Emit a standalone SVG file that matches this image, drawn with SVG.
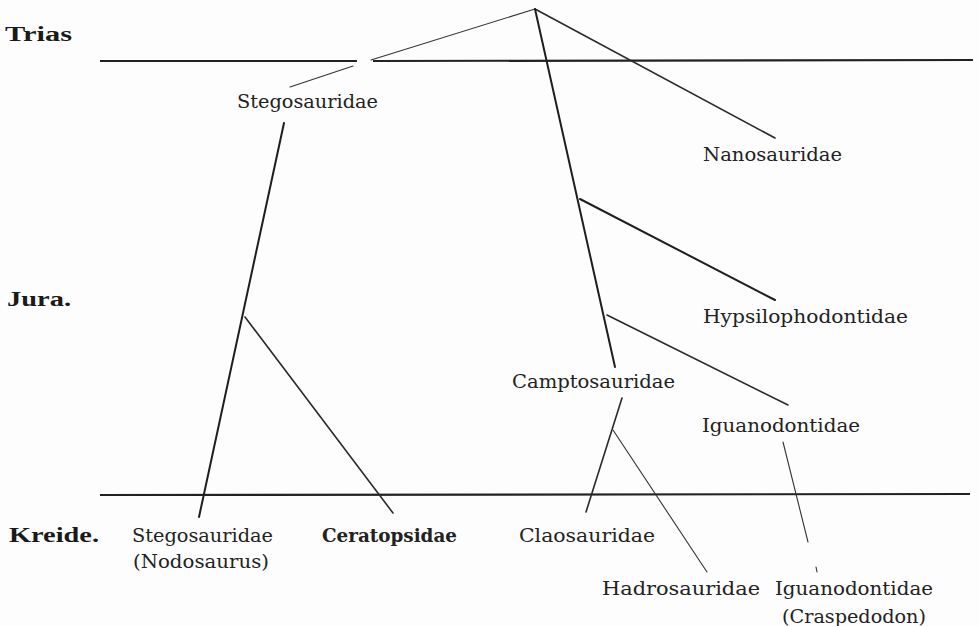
<svg xmlns="http://www.w3.org/2000/svg" width="979" height="626" viewBox="0 0 979 626">
<style>
.bg{fill:#fdfdfd}
.era{font-family:"Liberation Serif","Times New Roman",serif;font-weight:bold;font-size:20px;fill:#1a1a1a}
.lab{font-family:"DejaVu Serif","Liberation Serif",serif;font-size:18px;fill:#222}
.labb{font-family:"DejaVu Serif","Liberation Serif",serif;font-size:18px;font-weight:bold;fill:#222}
.hl{stroke:#222;stroke-width:2.2;fill:none;stroke-linecap:butt}
.ln{stroke:#2a2a2a;stroke-width:1.6;fill:none;stroke-linecap:round}
.lt{stroke:#333;stroke-width:1.1;fill:none;stroke-linecap:round}
.lk{stroke:#1e1e1e;stroke-width:2;fill:none;stroke-linecap:round}
</style>
<rect class="bg" x="0" y="0" width="979" height="626"/>

<g id="eras">
  <text class="era" x="5" y="41" textLength="67" lengthAdjust="spacingAndGlyphs">Trias</text>
  <text class="era" x="7" y="306" textLength="64" lengthAdjust="spacingAndGlyphs">Jura.</text>
  <text class="era" x="9" y="542" textLength="90" lengthAdjust="spacingAndGlyphs">Kreide.</text>
</g>

<g id="boundaries">
  <line class="hl" x1="100" y1="61" x2="357" y2="61"/>
  <line class="hl" x1="373" y1="61" x2="973" y2="60"/>
  <line class="hl" x1="100" y1="495" x2="970" y2="494"/>
</g>

<g id="connectors">
  <line class="lt" x1="535" y1="9" x2="371" y2="60"/>
  <line class="lt" x1="353" y1="66" x2="290" y2="87"/>
  <line class="ln" x1="535" y1="9" x2="775" y2="138"/>
  <line class="lk" x1="535" y1="9" x2="615" y2="367"/>
  <line class="lk" x1="580" y1="199" x2="775" y2="300"/>
  <line class="ln" x1="607" y1="315" x2="788" y2="405"/>
  <line class="lk" x1="284" y1="123" x2="199" y2="517"/>
  <line class="ln" x1="245" y1="317" x2="393" y2="513"/>
  <line class="ln" x1="622" y1="398" x2="586" y2="512"/>
  <line class="lt" x1="613" y1="430" x2="707" y2="572"/>
  <line class="lt" x1="783" y1="442" x2="808" y2="542"/>
  <line class="lt" x1="816" y1="567" x2="817" y2="572"/>
</g>

<g id="stegosauridae-top"><text class="lab" x="237" y="108" textLength="141" lengthAdjust="spacingAndGlyphs">Stegosauridae</text></g>
<g id="nanosauridae"><text class="lab" x="703" y="161" textLength="139" lengthAdjust="spacingAndGlyphs">Nanosauridae</text></g>
<g id="hypsilophodontidae"><text class="lab" x="703" y="323" textLength="205" lengthAdjust="spacingAndGlyphs">Hypsilophodontidae</text></g>
<g id="camptosauridae"><text class="lab" x="512" y="388" textLength="163" lengthAdjust="spacingAndGlyphs">Camptosauridae</text></g>
<g id="iguanodontidae-mid"><text class="lab" x="702" y="432" textLength="158" lengthAdjust="spacingAndGlyphs">Iguanodontidae</text></g>
<g id="stegosauridae-bottom">
  <text class="lab" x="132" y="542" textLength="141" lengthAdjust="spacingAndGlyphs">Stegosauridae</text>
  <text class="lab" x="133" y="568" textLength="136" lengthAdjust="spacingAndGlyphs">(Nodosaurus)</text>
</g>
<g id="ceratopsidae"><text class="labb" x="322" y="542" textLength="135" lengthAdjust="spacingAndGlyphs">Ceratopsidae</text></g>
<g id="claosauridae"><text class="lab" x="519" y="542" textLength="136" lengthAdjust="spacingAndGlyphs">Claosauridae</text></g>
<g id="hadrosauridae"><text class="lab" x="602" y="595" textLength="158" lengthAdjust="spacingAndGlyphs">Hadrosauridae</text></g>
<g id="iguanodontidae-bottom">
  <text class="lab" x="775" y="595" textLength="158" lengthAdjust="spacingAndGlyphs">Iguanodontidae</text>
  <text class="lab" x="782" y="623" textLength="144" lengthAdjust="spacingAndGlyphs">(Craspedodon)</text>
</g>
</svg>
